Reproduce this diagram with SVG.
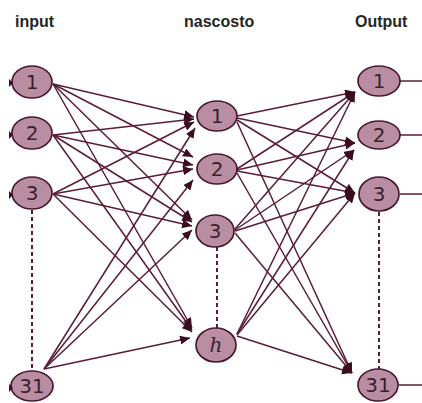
<svg xmlns="http://www.w3.org/2000/svg" width="422" height="403" viewBox="0 0 422 403">
<defs>
<style>
.lbl{font-family:"Liberation Sans",Arial,sans-serif;font-weight:bold;font-size:16px;fill:#262626}
.n ellipse{fill:#b98ea2;stroke:#4a1830;stroke-width:1.7}
.n text{font-family:"DejaVu Sans","Liberation Sans",sans-serif;font-size:20px;fill:#3a1f2e;text-anchor:middle}
.c line{stroke:#5a1c36;stroke-width:1.5}
.a{marker-end:url(#ah)}
.c line.d{stroke-dasharray:4 3;stroke-width:2}
</style>
<marker id="ah" markerUnits="userSpaceOnUse" markerWidth="10" markerHeight="9" refX="10" refY="4.5" orient="auto">
<path d="M0,0 L10,4.5 L0,9 z" fill="#3a0d1f"/>
</marker>
</defs>
<rect width="422" height="403" fill="#ffffff"/>
<text class="lbl" x="15" y="27">input</text>
<text class="lbl" x="184" y="27">nascosto</text>
<text class="lbl" x="355" y="27">Output</text>
<g class="c" id="connectors">
<line class="a" x1="53" y1="84" x2="194" y2="117"/>
<line class="a" x1="53" y1="84" x2="193" y2="157"/>
<line class="a" x1="53" y1="84" x2="192" y2="220"/>
<line class="a" x1="53" y1="84" x2="192" y2="328"/>
<line class="a" x1="53" y1="135" x2="194" y2="119"/>
<line class="a" x1="53" y1="135" x2="193" y2="165"/>
<line class="a" x1="53" y1="135" x2="192" y2="222"/>
<line class="a" x1="53" y1="135" x2="192" y2="330"/>
<line class="a" x1="53" y1="194" x2="194" y2="122"/>
<line class="a" x1="53" y1="194" x2="193" y2="169"/>
<line class="a" x1="53" y1="194" x2="192" y2="226"/>
<line class="a" x1="53" y1="194" x2="192" y2="332"/>
<line class="a" x1="44" y1="369" x2="195" y2="128"/>
<line class="a" x1="44" y1="369" x2="193" y2="180"/>
<line class="a" x1="44" y1="369" x2="192" y2="230"/>
<line class="a" x1="44" y1="369" x2="190" y2="338"/>
<line class="a" x1="237" y1="116" x2="355" y2="92"/>
<line class="a" x1="237" y1="118" x2="355" y2="143"/>
<line class="a" x1="237" y1="120" x2="355" y2="193"/>
<line class="a" x1="237" y1="122" x2="352" y2="373"/>
<line class="a" x1="237" y1="169" x2="355" y2="92"/>
<line class="a" x1="237" y1="170" x2="355" y2="143"/>
<line class="a" x1="237" y1="171" x2="355" y2="193"/>
<line class="a" x1="237" y1="173" x2="352" y2="373"/>
<line class="a" x1="235" y1="229" x2="355" y2="92"/>
<line class="a" x1="235" y1="230" x2="354" y2="150"/>
<line class="a" x1="235" y1="231" x2="355" y2="193"/>
<line class="a" x1="235" y1="233" x2="352" y2="373"/>
<line class="a" x1="237" y1="334" x2="355" y2="92"/>
<line class="a" x1="237" y1="334" x2="354" y2="150"/>
<line class="a" x1="237" y1="335" x2="355" y2="193"/>
<line class="a" x1="237" y1="336" x2="352" y2="373"/>
<line x1="400" y1="81" x2="422" y2="81"/>
<line x1="400" y1="135" x2="422" y2="135"/>
<line x1="400" y1="194" x2="422" y2="194"/>
<line x1="399" y1="385" x2="422" y2="385"/>
<line class="d" x1="32" y1="210" x2="32" y2="370"/>
<line class="d" x1="217" y1="247" x2="217" y2="328"/>
<line class="d" x1="379" y1="212" x2="379" y2="369"/>
</g>
<g id="in1" class="n"><ellipse cx="32" cy="82" rx="20" ry="16"/><text x="32" y="89">1</text><path d="M9,79 L13,83 L9,87 z" fill="#3a0d1f"/></g>
<g id="in2" class="n"><ellipse cx="32" cy="133" rx="20" ry="16"/><text x="32" y="140">2</text><path d="M9,131 L13,135 L9,139 z" fill="#3a0d1f"/></g>
<g id="in3" class="n"><ellipse cx="32" cy="193" rx="20" ry="16"/><text x="32" y="200">3</text><path d="M9,191 L13,195 L9,199 z" fill="#3a0d1f"/></g>
<g id="in31" class="n"><ellipse cx="32" cy="386" rx="21" ry="15"/><text x="32" y="393">31</text><path d="M9,384 L13,388 L9,392 z" fill="#3a0d1f"/></g>
<g id="h1" class="n"><ellipse cx="217" cy="116" rx="20" ry="15"/><text x="217" y="123">1</text></g>
<g id="h2" class="n"><ellipse cx="217" cy="169" rx="20" ry="15"/><text x="217" y="176">2</text></g>
<g id="h3" class="n"><ellipse cx="215" cy="231" rx="19" ry="16"/><text x="215" y="238">3</text></g>
<g id="hh" class="n"><ellipse cx="216" cy="345" rx="20" ry="17"/><text x="216" y="352" style="font-family:'DejaVu Serif','Liberation Serif',serif;font-style:italic">h</text></g>
<g id="o1" class="n"><ellipse cx="379" cy="81" rx="21" ry="15"/><text x="379" y="88">1</text></g>
<g id="o2" class="n"><ellipse cx="379" cy="135" rx="21" ry="14"/><text x="379" y="142">2</text></g>
<g id="o3" class="n"><ellipse cx="379" cy="194" rx="20" ry="17"/><text x="379" y="201">3</text></g>
<g id="o31" class="n"><ellipse cx="378" cy="385" rx="20" ry="16"/><text x="378" y="392">31</text></g>
</svg>
